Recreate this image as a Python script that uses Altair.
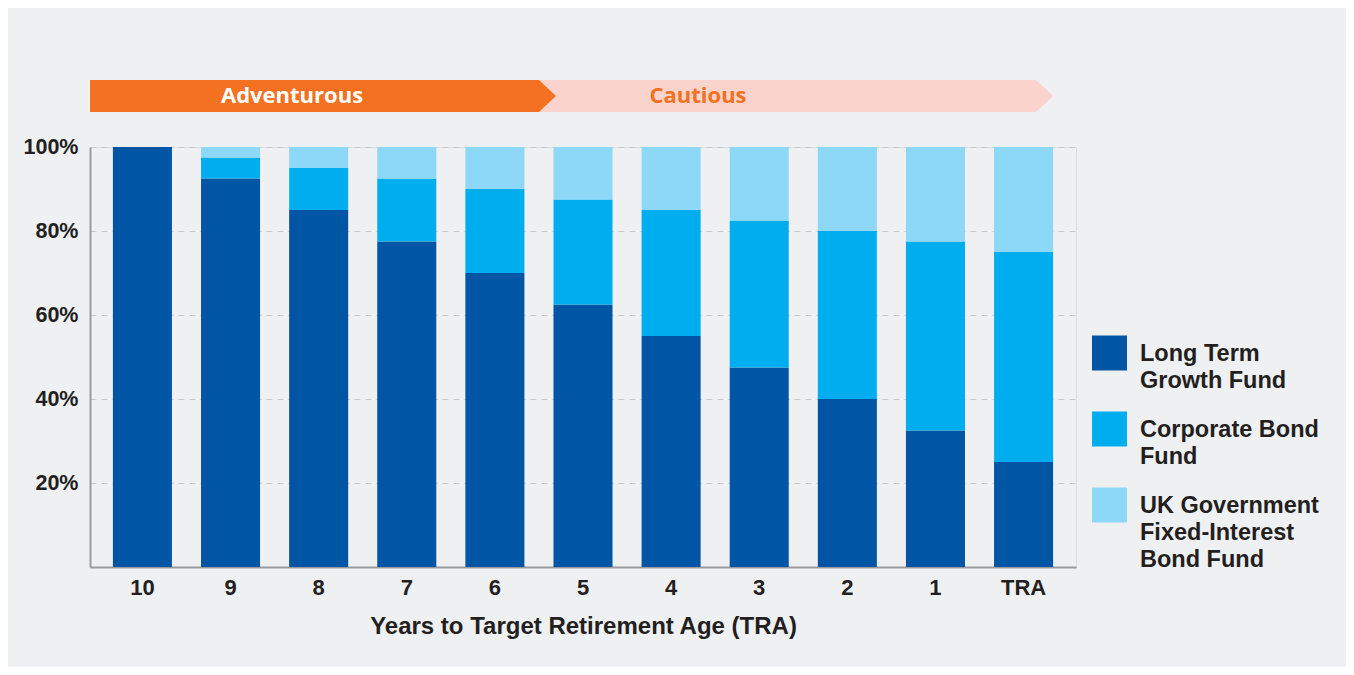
import altair as alt
import pandas as pd

# ---- data ----
years = ["10", "9", "8", "7", "6", "5", "4", "3", "2", "1", "TRA"]
long_term = [100, 92.5, 85, 77.5, 70, 62.5, 55, 47.5, 40, 32.5, 25]
corporate = [0, 5, 10, 15, 20, 25, 30, 35, 40, 45, 50]
uk_gov = [0, 2.5, 5, 7.5, 10, 12.5, 15, 17.5, 20, 22.5, 25]
funds = ["Long Term\nGrowth Fund", "Corporate Bond\nFund",
         "UK Government\nFixed-Interest\nBond Fund"]
fund_colors = ["#0055a4", "#00aeef", "#8dd7f7"]
phases = ["Adventurous", "Cautious"]
phase_last_index = [4, 10]  # index of last year in each phase
y_ticks = [20, 40, 60, 80, 100]

# ---- layout parameters ----
W, H = 986, 420
P_IN, P_OUT = 0.33, 0.26
FONT = "Liberation Sans"
TEXT = "#231f20"
BG = "#eff0f2"
ORANGE = "#f47121"
PINK = "#fad4cc"
PAD_L, PAD_T = 82, 139
TOTAL_W, TOTAL_H = 1338, 659

rows = []
for i, yr in enumerate(years):
    for k, vals in enumerate([long_term, corporate, uk_gov]):
        if vals[i] > 0:
            rows.append({"year": yr, "fund": funds[k], "value": vals[i], "idx": k})
df = pd.DataFrame(rows)

# banner geometry derived from the band scale
n = len(years)
step = W / (n - P_IN + 2 * P_OUT)
bw = (1 - P_IN) * step
def band_start(i):
    return P_OUT * step + i * step
tip = 17
adv_end = (band_start(phase_last_index[0]) + bw + band_start(phase_last_index[0] + 1)) / 2
cau_end = band_start(phase_last_index[1]) + bw - tip
b_bot, b_top = H + 35, H + 67
b_mid = (b_bot + b_top) / 2

adv_df = pd.DataFrame({"bx": [0, adv_end, adv_end + tip],
                       "by": [b_top, b_top, b_mid], "by2": [b_bot, b_bot, b_mid]})
cau_df = pd.DataFrame({"bx": [adv_end - 5, cau_end, cau_end + tip],
                       "by": [b_top, b_top, b_mid], "by2": [b_bot, b_bot, b_mid]})
lab_df = pd.DataFrame({"bx": [0.45 * adv_end, adv_end + 0.32 * (cau_end - adv_end)],
                       "by": [b_mid, b_mid], "label": phases,
                       "col": ["#ffffff", ORANGE]})

bx = alt.X("bx:Q", scale=alt.Scale(domain=[0, W], nice=False, zero=False), axis=None)
by = alt.Y("by:Q", scale=alt.Scale(domain=[0, H], nice=False), axis=None)

pink = alt.Chart(cau_df).mark_area(color=PINK, opacity=1).encode(x=bx, y=by, y2="by2:Q")
orange = alt.Chart(adv_df).mark_area(color=ORANGE, opacity=1).encode(x=bx, y=by, y2="by2:Q")
labels = alt.Chart(lab_df).mark_text(font="Open Sans", fontSize=22, fontWeight="bold",
                                     baseline="middle", align="center").encode(
    x=bx, y=by, text="label:N", color=alt.Color("col:N", scale=None))

# square legend symbol, raised so the label's first line sits just below its centre
legend_square = "M-1,-1.43H1V0.57H-1Z"

bars = alt.Chart(df).mark_bar().encode(
    x=alt.X("year:N", sort=years,
            scale=alt.Scale(paddingInner=P_IN, paddingOuter=P_OUT),
            axis=alt.Axis(title="Years to Target Retirement Age (TRA)", labelAngle=0,
                          labelFont=FONT, labelFontSize=22, labelFontWeight="bold",
                          labelColor=TEXT, labelPadding=10, ticks=False,
                          domainColor="#9a9a9a", domainWidth=2,
                          titleFont=FONT, titleFontSize=24, titleFontWeight="bold",
                          titleColor=TEXT, titlePadding=16)),
    y=alt.Y("value:Q", stack="zero",
            scale=alt.Scale(domain=[0, 100], nice=False),
            axis=alt.Axis(title=None, values=y_ticks, labelExpr="datum.value + '%'",
                          labelFont=FONT, labelFontSize=21.5, labelFontWeight="bold",
                          labelColor=TEXT, labelPadding=12, ticks=False,
                          domainColor="#9a9a9a", domainWidth=2,
                          gridColor="#c8c8c8", gridDash=[6, 5], gridWidth=1)),
    color=alt.Color("fund:N", scale=alt.Scale(domain=funds, range=fund_colors),
                    legend=alt.Legend(title=None, orient="none", legendX=1002, legendY=196,
                                      symbolType=legend_square, symbolSize=1225,
                                      symbolStrokeWidth=0,
                                      labelExpr="split(datum.label, '\\n')",
                                      labelFont=FONT, labelFontSize=23.5,
                                      labelFontWeight="bold", labelColor=TEXT,
                                      labelBaseline="alphabetic", labelOffset=13,
                                      labelLimit=400, rowPadding=19, padding=0)),
    order=alt.Order("idx:Q", sort="ascending"),
)

chart = alt.layer(bars, pink, orange, labels).resolve_scale(
    x="independent", y="independent", color="independent"
).properties(
    width=W, height=H, background=BG,
    padding={"left": PAD_L, "top": PAD_T, "right": TOTAL_W - PAD_L - W,
             "bottom": TOTAL_H - PAD_T - H},
    autosize=alt.AutoSizeParams(type="none"),
).configure_view(stroke=None).configure(
    style={"guide-label": {"lineHeight": 27}}
)

chart.save("out.html", embed_options={"renderer": "svg", "actions": False})
